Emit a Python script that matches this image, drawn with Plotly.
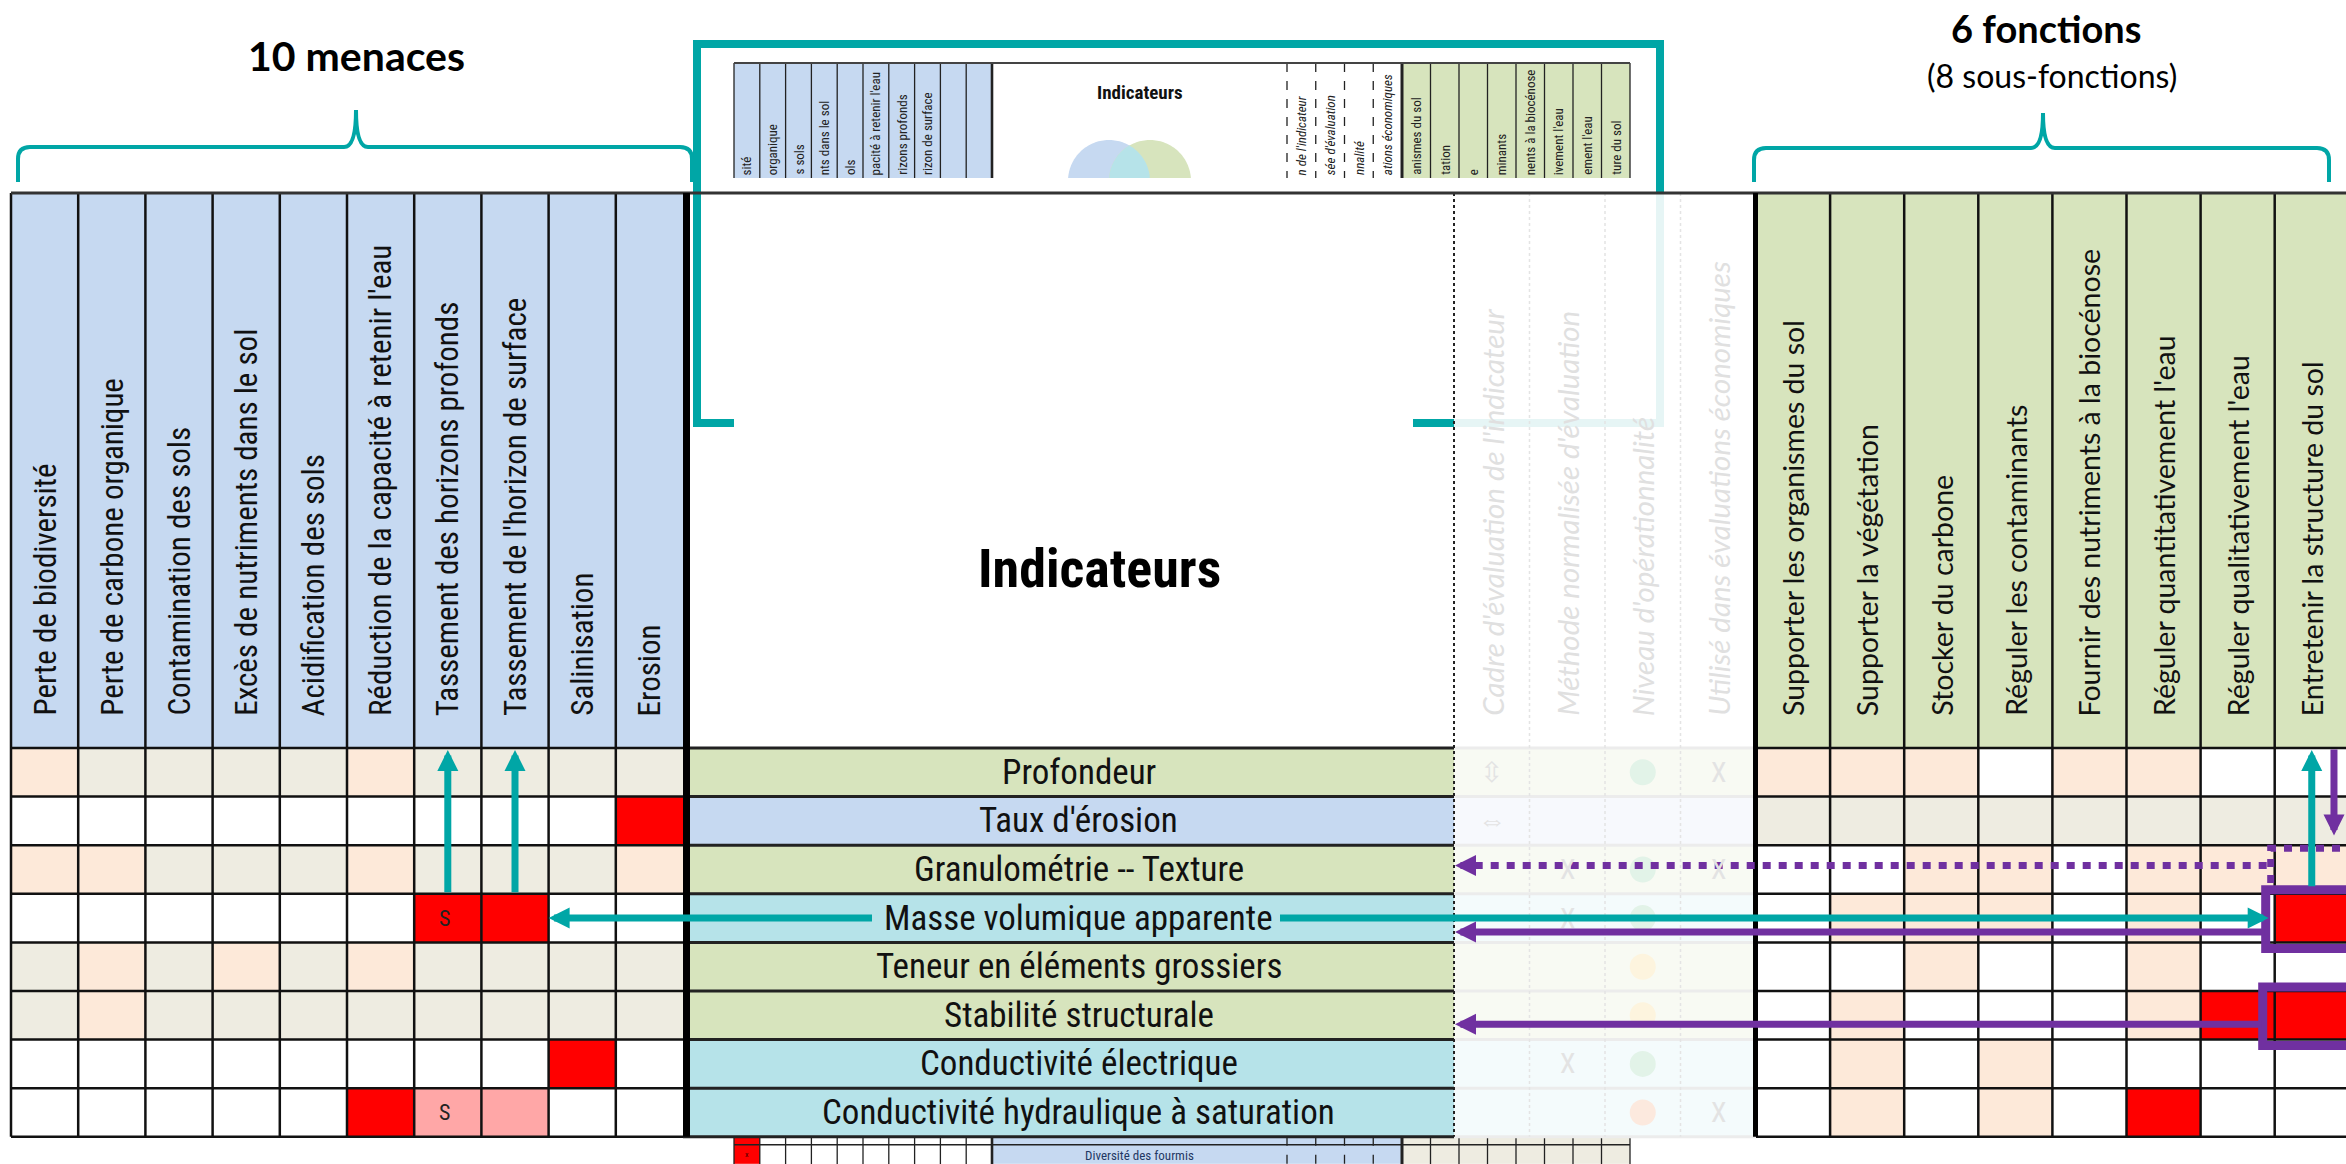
import numpy as np
import plotly.graph_objects as go

# ------------------------------------------------------------------ DATA
TITRE_MENACES = "10 menaces"
TITRE_FONCTIONS = "6 fonctions"
SOUS_TITRE_FONCTIONS = "(8 sous-fonctions)"
TITRE_INDICATEURS = "Indicateurs"

MENACES = ["Perte de biodiversité", "Perte de carbone organique", "Contamination des sols",
           "Excès de nutriments dans le sol", "Acidification des sols",
           "Réduction de la capacité à retenir l'eau", "Tassement des horizons profonds",
           "Tassement de l'horizon de surface", "Salinisation", "Erosion"]

FONCTIONS = ["Supporter les organismes du sol", "Supporter la végétation", "Stocker du carbone",
             "Réguler les contaminants", "Fournir des nutriments à la biocénose",
             "Réguler quantitativement l'eau", "Réguler qualitativement l'eau",
             "Entretenir la structure du sol"]

CRITERES = ["Cadre d'évaluation de l'indicateur", "Méthode normalisée d'évaluation",
            "Niveau d'opérationnalité", "Utilisé dans évaluations économiques"]

INDICATEURS = ["Profondeur", "Taux d'érosion", "Granulométrie -- Texture",
               "Masse volumique apparente", "Teneur en éléments grossiers",
               "Stabilité structurale", "Conductivité électrique",
               "Conductivité hydraulique à saturation"]
IND_TYPE = ["vert", "bleu", "vert", "cyan", "vert", "vert", "cyan", "cyan"]

# W blanc, B beige, P pêche, R rouge, L rouge clair
MENACE_GRID = ["PBBBBPBBBB",
               "WWWWWWWWWR",
               "PPBBBPBBBP",
               "WWWWWWRRWW",
               "BPBPBPBBBB",
               "BPBBBBBBBB",
               "WWWWWWWWRW",
               "WWWWWRLLWW"]
MENACE_S = [(3, 6), (7, 6)]

FONCTION_GRID = ["PPPWPPWW",
                 "BBBBBBBB",
                 "WWPPWPPP",
                 "WPPPWPWR",
                 "WWPWWPWW",
                 "WPWWWPRR",
                 "WPWPWWWW",
                 "WPWPWRWW"]

CRIT_TEXT = [["⇳", "", "", "X"], ["⇔", "", "", ""], ["", "X", "", "X"], ["", "X", "", ""],
             ["", "", "", ""], ["", "", "", ""], ["", "X", "", ""], ["", "", "", "X"]]
OPERATIONNALITE = ["vert", "", "vert", "vert", "jaune", "jaune", "vert", "orange"]

# thumbnail (aperçu du tableau complet)
MINI_MENACES = ["sité", "organique", "s sols", "nts dans le sol", "ols",
                "pacité à retenir l'eau", "rizons profonds", "rizon de surface", "", ""]
MINI_CRITERES = ["n de l'indicateur", "sée d'évaluation", "nnalité", "ations économiques"]
MINI_FONCTIONS = ["anismes du sol", "tation", "e", "minants", "nents à la biocénose",
                  "ivement l'eau", "ement l'eau", "ture du sol"]
MINI_ROWS = ["Abondance des fourmis", "Diversité des fourmis"]
MINI_ROW_GRID = ["RWWWWWWWWW", "RWWWWWWWWW"]

# ------------------------------------------------------------------ STYLE / GEOMETRY
W, H = 2346, 1164
TEAL = "#00A6A6"
PURPLE = "#7030A0"
NARROW = "Liberation Sans Narrow, Arial Narrow, Roboto Condensed, Roboto, sans-serif"
SANS = "Lato, Roboto, sans-serif"

COLORS = {"W": "#FFFFFF", "B": "#EEECE1", "P": "#FDE9D9", "R": "#FF0000", "L": "#FFA7A7",
          "HB": "#C6D9F1", "HG": "#D7E4BD",
          "vert": "#D7E4BD", "bleu": "#C6D9F1", "cyan": "#B6E3E9",
          "fvert": "#F8FAF3", "fbleu": "#F7F9FD", "fcyan": "#F4FBFC"}
KEYS = list(COLORS)
IDX = {k: i for i, k in enumerate(KEYS)}
NC = len(KEYS)
CSCALE = []
for i, k in enumerate(KEYS):
    CSCALE += [[i / NC, COLORS[k]], [(i + 1) / NC, COLORS[k]]]

HDR_TOP = 193
ROW_TOP = 748
ROW_H = 48.6
NR = len(INDICATEURS)
ROW_BOT = ROW_TOP + NR * ROW_H
LX0, LCW = 11, 67.2
LX1 = LX0 + len(MENACES) * LCW
IX1 = 1454
FCW = 75.5
RX0 = IX1 + len(CRITERES) * FCW
RCW = 74.1


def row_c(r):
    return ROW_TOP + (r + 0.5) * ROW_H


def lcol_c(c):
    return LX0 + (c + 0.5) * LCW


def rcol_c(c):
    return RX0 + (c + 0.5) * RCW


def fcol_c(c):
    return IX1 + (c + 0.5) * FCW


IND_XC = (LX1 + IX1) / 2 + 10
HDR_XC = (LX1 + IX1) / 2 + 31

shapes, annots = [], []


def seg(x0, y0, x1, y1, color, width, dash="solid"):
    shapes.append(dict(type="line", xref="x", yref="y", x0=x0, y0=y0, x1=x1, y1=y1,
                       line=dict(color=color, width=width, dash=dash)))


def txt(x, y, s, size, color="#000", family=NARROW, angle=0, xa="center", ya="middle",
        weight="normal", style="normal"):
    annots.append(dict(x=x, y=y, xref="x", yref="y", text=s, showarrow=False, textangle=angle,
                       xanchor=xa, yanchor=ya,
                       font=dict(size=size, color=color, family=family, weight=weight, style=style)))


def arrow(x_tip, y_tip, x_tail, y_tail, color, width=7, size=0.6):
    annots.append(dict(x=x_tip, y=y_tip, ax=x_tail, ay=y_tail, xref="x", yref="y",
                       axref="x", ayref="y", text="", showarrow=True, arrowhead=2,
                       arrowsize=size, arrowwidth=width, arrowcolor=color, standoff=0))


fig = go.Figure()

# ------------------------------------------------------------------ MAIN TABLE CELLS (heatmap)
xe = [LX0 + i * LCW for i in range(len(MENACES) + 1)] + [IX1] + \
     [IX1 + (j + 1) * FCW for j in range(len(CRITERES))] + \
     [RX0 + (k + 1) * RCW for k in range(len(FONCTIONS))]
ye = [HDR_TOP] + [ROW_TOP + r * ROW_H for r in range(NR + 1)]
z = [["HB"] * len(MENACES) + ["W"] + ["W"] * len(CRITERES) + ["HG"] * len(FONCTIONS)]
for r in range(NR):
    z.append(list(MENACE_GRID[r]) + [IND_TYPE[r]] + ["f" + IND_TYPE[r]] * len(CRITERES)
             + list(FONCTION_GRID[r]))
fig.add_trace(go.Heatmap(x=xe, y=ye, z=[[IDX[k] for k in row] for row in z], colorscale=CSCALE,
                         zmin=-0.5, zmax=NC - 0.5, showscale=False, hoverinfo="skip"))

# ------------------------------------------------------------------ THUMBNAIL (aperçu)
MT_Y0, MT_Y1 = 63, 178
ML_X0, ML_CW = 734, 25.8
ML_X1 = ML_X0 + 10 * ML_CW
MI_X1 = 1287
MD_CW = 28.75
MR_X0 = MI_X1 + 4 * MD_CW
MR_CW = 28.5
MR_X1 = MR_X0 + 8 * MR_CW
mxe = [ML_X0 + i * ML_CW for i in range(11)] + [MI_X1] + \
      [MI_X1 + (j + 1) * MD_CW for j in range(4)] + [MR_X0 + (k + 1) * MR_CW for k in range(8)]
mz = [["HB"] * 10 + ["W"] * 5 + ["HG"] * 8]
fig.add_trace(go.Heatmap(x=mxe, y=[MT_Y0, MT_Y1], z=[[IDX[k] for k in row] for row in mz],
                         colorscale=CSCALE, zmin=-0.5, zmax=NC - 0.5, showscale=False,
                         hoverinfo="skip"))
# bottom strip of the thumbnail visible under the table
BS_Y = [ROW_BOT, ROW_BOT + 8, H]
bz = [list(MINI_ROW_GRID[r]) + ["bleu"] * 5 + ["B"] * 8 for r in range(len(MINI_ROWS))]
fig.add_trace(go.Heatmap(x=mxe, y=BS_Y, z=[[IDX[k] for k in row] for row in bz],
                         colorscale=CSCALE, zmin=-0.5, zmax=NC - 0.5, showscale=False,
                         hoverinfo="skip"))

# venn circles in thumbnail
VCY, VR = 181, 41
VB_X, VG_X = 1109, 1150


def circle_cap(cx, cy, r, ycut, n=80):
    t = np.linspace(0, np.pi, n)
    xs = cx - r * np.cos(t)
    ys = cy - r * np.sin(t)
    keep = ys <= ycut
    xs, ys = xs[keep], ys[keep]
    pts = [(xs[0], ycut)] + list(zip(xs, ys)) + [(xs[-1], ycut)]
    return "M " + " L ".join(f"{a:.2f},{b:.2f}" for a, b in pts) + " Z"


def lens(ycut, n=120):
    xs = np.linspace(VG_X - VR, VB_X + VR, n)
    tb = VCY - np.sqrt(np.clip(VR ** 2 - (xs - VB_X) ** 2, 0, None))
    tg = VCY - np.sqrt(np.clip(VR ** 2 - (xs - VG_X) ** 2, 0, None))
    top = np.maximum(tb, tg)
    keep = top <= ycut
    xs, top = xs[keep], top[keep]
    pts = [(xs[0], ycut)] + list(zip(xs, top)) + [(xs[-1], ycut)]
    return "M " + " L ".join(f"{a:.2f},{b:.2f}" for a, b in pts) + " Z"


for p, c in [(circle_cap(VB_X, VCY, VR, MT_Y1), COLORS["bleu"]),
             (circle_cap(VG_X, VCY, VR, MT_Y1), COLORS["vert"]),
             (lens(MT_Y1), COLORS["cyan"])]:
    shapes.append(dict(type="path", xref="x", yref="y", path=p, fillcolor=c,
                       line=dict(width=0), layer="above"))

# thumbnail grid lines
for yy0, yy1 in [(MT_Y0, MT_Y1), (ROW_BOT, H)]:
    for i in range(11):
        seg(ML_X0 + i * ML_CW, yy0, ML_X0 + i * ML_CW, yy1, "#222", 2.6 if i == 10 else 1.3)
    for j in range(4):
        seg(MI_X1 + j * MD_CW, yy0, MI_X1 + j * MD_CW, yy1, "#222", 1.3, "dash")
    for k in range(9):
        seg(MR_X0 + k * MR_CW, yy0, MR_X0 + k * MR_CW, yy1, "#222", 3 if k == 0 else 1.3)
seg(ML_X0, MT_Y0, MR_X1, MT_Y0, "#444", 2.2)
seg(ML_X0, BS_Y[1], MR_X1, BS_Y[1], "#222", 1.5)

for i, s in enumerate(MINI_MENACES):
    if s:
        txt(ML_X0 + (i + 0.5) * ML_CW, MT_Y1 - 1, s, 13, "#222", angle=-90, ya="bottom")
for j, s in enumerate(MINI_CRITERES):
    txt(MI_X1 + (j + 0.5) * MD_CW, MT_Y1 - 1, s, 13, "#222", angle=-90, ya="bottom",
        style="italic")
for k, s in enumerate(MINI_FONCTIONS):
    txt(MR_X0 + (k + 0.5) * MR_CW, MT_Y1 - 1, s, 13, "#222", angle=-90, ya="bottom")
txt((ML_X1 + MI_X1) / 2, 92, TITRE_INDICATEURS, 19, "#111", weight="bold")
txt((ML_X1 + MI_X1) / 2, (BS_Y[1] + H) / 2 + 1, MINI_ROWS[1], 13, "#1F3864")
txt(ML_X0 + 0.5 * ML_CW, (BS_Y[1] + H) / 2, "x", 8, "#400")

# teal frame around thumbnail
TF_X0, TF_X1, TF_Y0, TF_Y1 = 697, 1660, 44, 423
FADED_TEAL = "#E6F5F5"
seg(TF_X0 - 4, TF_Y0, TF_X1 + 4, TF_Y0, TEAL, 8)
seg(TF_X0, TF_Y0, TF_X0, TF_Y1 + 4, TEAL, 8)
seg(TF_X1, TF_Y0, TF_X1, HDR_TOP, TEAL, 8)
seg(TF_X1, HDR_TOP, TF_X1, TF_Y1, FADED_TEAL, 8)
seg(TF_X0 - 4, TF_Y1, ML_X0, TF_Y1, TEAL, 8)
seg(1413, TF_Y1, IX1, TF_Y1, TEAL, 8)
seg(IX1, TF_Y1, TF_X1 + 4, TF_Y1, FADED_TEAL, 8)

# ------------------------------------------------------------------ MAIN TABLE LINES
for i in range(len(MENACES)):
    seg(LX0 + i * LCW, HDR_TOP, LX0 + i * LCW, ROW_BOT, "#111", 2.5)
for k in range(1, len(FONCTIONS) + 1):
    seg(RX0 + k * RCW, HDR_TOP, RX0 + k * RCW, ROW_BOT, "#111", 2.5)
for r in range(NR + 1):
    yy = ROW_TOP + r * ROW_H
    seg(LX0, yy, LX1, yy, "#111", 2.5)
    seg(LX1, yy, IX1, yy, "#222", 3)
    seg(IX1, yy, RX0, yy, "#ECECEC", 3)
    seg(RX0, yy, W, yy, "#111", 2.5)
for j in range(1, len(CRITERES)):
    seg(IX1 + j * FCW, HDR_TOP, IX1 + j * FCW, ROW_BOT, "#E4E4E4", 1.5, "dot")
seg(IX1, HDR_TOP, IX1, ROW_BOT, "#222", 2, "dot")
seg(LX0, HDR_TOP, W, HDR_TOP, "#333", 3)
seg(LX1 + 3.5, HDR_TOP, LX1 + 3.5, ROW_BOT, "#000", 7)
seg(RX0 - 0.5, HDR_TOP, RX0 - 0.5, ROW_BOT, "#000", 5)

# ------------------------------------------------------------------ TEXTS
for i, s in enumerate(MENACES):
    txt(lcol_c(i), ROW_TOP - 30, s, 31, "#111", angle=-90, ya="bottom")
for k, s in enumerate(FONCTIONS):
    txt(rcol_c(k), ROW_TOP - 30, s, 28.5, "#111", family=SANS, angle=-90, ya="bottom")
for j, s in enumerate(CRITERES):
    txt(fcol_c(j), ROW_TOP - 30, s, 29.5, "#E0E0E0", family=SANS, angle=-90, ya="bottom",
        style="italic")
for r, s in enumerate(INDICATEURS):
    txt(IND_XC, row_c(r), s, 35, "#111")
txt(HDR_XC, 568, TITRE_INDICATEURS, 54, "#000", weight="bold")
for r, c in MENACE_S:
    txt(lcol_c(c) - 3, row_c(r), "S", 22, "#222")

# faded criteria content
for r in range(NR):
    for j in range(len(CRITERES)):
        if CRIT_TEXT[r][j]:
            txt(fcol_c(j), row_c(r), CRIT_TEXT[r][j], 28, "#E3E3E3")
LEVEL_COL = {"vert": "#E2F3E8", "jaune": "#FDF4DE", "orange": "#FCE9DE"}
lv_r = [r for r in range(NR) if OPERATIONNALITE[r]]
fig.add_trace(go.Scatter(x=[fcol_c(2)] * len(lv_r), y=[row_c(r) for r in lv_r], mode="markers",
                         marker=dict(size=26, color=[LEVEL_COL[OPERATIONNALITE[r]] for r in lv_r],
                                     line=dict(width=0)),
                         hoverinfo="skip", showlegend=False))

# titles and braces
txt(356, 55, TITRE_MENACES, 41, "#000", family=SANS, weight="bold")
txt(2046, 28, TITRE_FONCTIONS, 38, "#000", family=SANS, weight="bold")
txt(2052, 75, SOUS_TITRE_FONCTIONS, 32, "#000", family=SANS)


def brace(x0, x1, xm, ytip, yline, yend, r=12):
    return (f"M {x0},{yend} L {x0},{yline + r} Q {x0},{yline} {x0 + r},{yline} "
            f"L {xm - r},{yline} Q {xm},{yline} {xm},{ytip} Q {xm},{yline} {xm + r},{yline} "
            f"L {x1 - r},{yline} Q {x1},{yline} {x1},{yline + r} L {x1},{yend}")


for p in [brace(18, 692, 356, 110, 147, 182), brace(1754, 2329, 2043, 113, 148, 182)]:
    shapes.append(dict(type="path", xref="x", yref="y", path=p, line=dict(color=TEAL, width=4)))

# ------------------------------------------------------------------ ARROWS
r_mva = INDICATEURS.index("Masse volumique apparente")
r_stab = INDICATEURS.index("Stabilité structurale")
r_gran = INDICATEURS.index("Granulométrie -- Texture")
c_last = len(FONCTIONS) - 1
y_mva = row_c(r_mva)
# teal
arrow(LX0 + 8 * LCW, y_mva, IND_XC - 205, y_mva, TEAL)
arrow(RX0 + c_last * RCW - 6, y_mva, IND_XC + 200, y_mva, TEAL)
for c in (6, 7):
    arrow(lcol_c(c), ROW_TOP + 2, lcol_c(c), ROW_TOP + r_mva * ROW_H, TEAL)
arrow(rcol_c(c_last), ROW_TOP + 2, rcol_c(c_last), ROW_TOP + r_mva * ROW_H - 6, TEAL)
# purple
arrow(RX0 + (c_last + 0.8) * RCW, ROW_TOP + 1.8 * ROW_H, RX0 + (c_last + 0.8) * RCW, ROW_TOP,
      PURPLE)
bx = RX0 + c_last * RCW
for r, pad_l, off in [(r_mva, 9, 14), (r_stab, 12, 9)]:
    shapes.append(dict(type="rect", xref="x", yref="y", x0=bx - pad_l, x1=W + 20,
                       y0=ROW_TOP + r * ROW_H - 4, y1=ROW_TOP + (r + 1) * ROW_H + 6,
                       line=dict(color=PURPLE, width=9)))
    arrow(IX1 + 1, row_c(r) + off, bx - pad_l, row_c(r) + off, PURPLE)
# dotted purple
yd_top = ROW_TOP + r_gran * ROW_H + 3
shapes.append(dict(type="path", xref="x", yref="y",
                   path=f"M {W + 10},{yd_top} L {bx - 4},{yd_top} L {bx - 4},{ROW_TOP + r_mva * ROW_H - 4}",
                   line=dict(color=PURPLE, width=7, dash="8px,8px")))
y_dot = ROW_TOP + (r_gran + 0.42) * ROW_H
seg(bx - 8, y_dot, IX1 + 14, y_dot, PURPLE, 7, "8px,8px")
arrow(IX1 + 1, y_dot, IX1 + 24, y_dot, PURPLE)

fig.update_layout(width=W, height=H, margin=dict(l=0, r=0, t=0, b=0),
                  paper_bgcolor="white", plot_bgcolor="white", showlegend=False,
                  hovermode=False, shapes=shapes, annotations=annots,
                  xaxis=dict(range=[0, W], visible=False, fixedrange=True),
                  yaxis=dict(range=[H, 0], visible=False, fixedrange=True))
fig.write_html("out.html", config={"displayModeBar": False, "staticPlot": True},
               post_script="document.body.style.margin='0';document.body.style.overflow='hidden';")
